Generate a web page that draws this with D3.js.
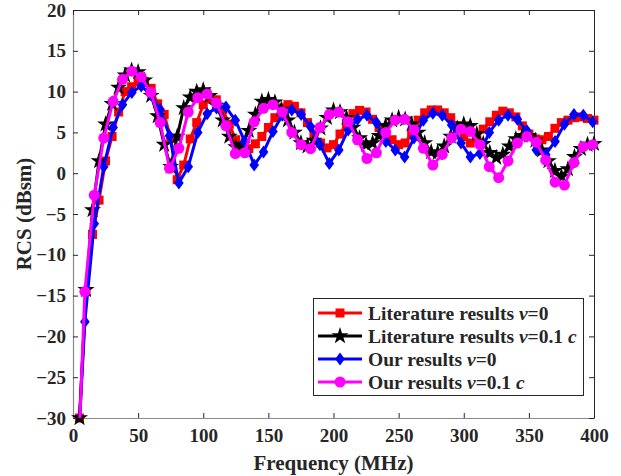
<!DOCTYPE html>
<html>
<head>
<meta charset="utf-8">
<script src="https://cdn.jsdelivr.net/npm/d3@7"></script>
<style>
  body { margin: 0; background: #fff; }
  svg text { font-family: "Liberation Serif", "Times New Roman", serif; font-weight: bold; fill: #262626; }
</style>
</head>
<body>
<svg id="chart" width="621" height="476"></svg>
<script>
// Frequency samples (MHz) of the literature curves
const freqLit = [5,10,15,20,25,30,35,40,45,50,55,60,65,70,75,80,85,90,95,100,
  105,110,115,120,125,130,135,140,145,150,155,160,165,170,175,180,185,190,195,200,
  205,210,215,220,225,230,235,240,245,250,255,260,265,270,275,280,285,290,295,300,
  305,310,315,320,325,330,335,340,345,350,355,360,365,370,375,380,385,390,395,400];

// Frequency samples (MHz) of our computed curves
const freqOurs = [1.9,9.1,16.3,23.6,30.8,38.0,45.2,52.4,59.7,66.9,74.1,81.3,88.5,95.8,103.0,110.2,
  117.4,124.6,131.9,139.1,146.3,153.5,160.7,168.0,175.2,182.4,189.6,196.8,204.1,211.3,218.5,225.7,
  232.9,240.2,247.4,254.6,261.8,269.0,276.3,283.5,290.7,297.9,305.1,312.4,319.6,326.8,334.0,341.2,
  348.5,355.7,362.9,370.1,377.3,384.6,391.8,399.0];

// RCS (dBsm), literature, v = 0
const litV0 = [-30,-14.5,-7.5,-3.3,1.5,4.5,7.5,10,10.6,11.2,
  11.2,10.4,8.5,7.2,4.3,-0.8,1.0,4.2,6.2,8.4,
  9.1,9.0,7.8,6.0,4.1,3.1,3.0,3.6,4.5,5.6,
  6.8,8.0,8.4,8.2,7.4,6.2,4.8,3.7,3.1,3.5,
  4.8,6.1,7.3,7.7,7.5,6.6,5.6,4.8,4.1,3.5,
  3.7,4.9,6.5,7.4,7.75,7.75,7.4,6.8,5.8,4.5,
  3.7,4.3,5.4,6.3,7.1,7.6,7.4,6.9,5.8,4.8,
  4.2,4.1,4.5,5.5,6.2,6.5,6.8,6.9,6.7,6.5];

// RCS (dBsm), literature, v = 0.1c
const litV01 = [-30,-14.3,-4.5,1.5,6,8.5,10.5,12,12.6,12.4,
  11.4,9.5,7,3.5,0.8,4.5,8,9.3,10,10.2,
  9.5,8.3,6.5,4.5,3.2,3.5,5.2,7.2,8.8,9.0,
  8.7,7.8,6.5,5.0,3.7,3.3,4.0,5.5,6.8,7.7,
  7.5,6.8,5.6,4.3,3.5,3.7,4.6,5.8,6.5,6.8,
  6.6,6.0,5.0,3.7,2.6,2.5,3.3,4.5,5.5,6.0,
  5.8,4.8,3.6,2.5,1.9,2.3,3.3,4.2,4.6,4.6,
  4.0,2.8,1.5,0.3,-0.4,0.5,2.0,3.0,3.5,3.6];

// RCS (dBsm), ours, v = 0
const oursV0 = [-40,-18.2,-6.2,0.8,5.6,8.4,9.9,10.7,9.6,7.8,4.6,-1.2,0.8,5.0,7.3,8.0,
  8.1,6.5,3.9,1.0,2.6,5.1,7.1,7.75,7.2,5.7,3.5,1.2,2.85,5.3,6.6,7.1,
  6.2,3.9,2.85,2.0,4.3,6.5,7.35,7.1,5.9,3.7,2.0,2.4,5.0,6.5,7.1,6.6,
  5.2,2.85,2.3,3.9,6.0,7.2,7.1,6.3];

// RCS (dBsm), ours, v = 0.1c
const oursV01 = [-44,-14.5,-2.7,4.3,8.8,11.5,12.5,11.8,9.9,6.2,0.6,3.05,7.5,9.25,9.7,8.6,
  5.8,2.4,2.5,6.3,7.95,8.4,7.5,5.0,3.5,3.0,5.6,7.2,7.5,6.3,4.1,1.8,
  2.5,5.0,6.5,6.6,5.3,3.05,1.0,2.3,4.35,5.4,5.1,3.5,0.8,-0.55,1.5,3.7,
  4.5,3.8,1.6,-1.1,-1.45,1.3,3.25,3.5];

const xTicks = [0,50,100,150,200,250,300,350,400];
const yTicks = [-30,-25,-20,-15,-10,-5,0,5,10,15,20];

const series = [
  { name: "Literature results ", tail: "=0", unit: "", freq: freqLit, vals: litV0, color: "#ff0000", marker: "square" },
  { name: "Literature results ", tail: "=0.1 ", unit: "c", freq: freqLit, vals: litV01, color: "#000000", marker: "star" },
  { name: "Our results ", tail: "=0", unit: "", freq: freqOurs, vals: oursV0, color: "#0000ff", marker: "diamond" },
  { name: "Our results ", tail: "=0.1 ", unit: "c", freq: freqOurs, vals: oursV01, color: "#ff00ff", marker: "circle" }
];

const svg = d3.select("#chart");
const plot = { left: 73, right: 594, top: 10, bottom: 418 };

const x = d3.scaleLinear().domain([0, 400]).range([plot.left, plot.right]);
const y = d3.scaleLinear().domain([-30, 20]).range([plot.bottom, plot.top]);

svg.append("rect").attr("x", 0).attr("y", 0).attr("width", 621).attr("height", 476).attr("fill", "#fff");

svg.append("defs").append("clipPath").attr("id", "plotClip")
  .append("rect")
  .attr("x", plot.left).attr("y", plot.top)
  .attr("width", plot.right - plot.left).attr("height", plot.bottom - plot.top);

// Axes with inward ticks
const tickLen = 5;
const gx = svg.append("g").attr("transform", `translate(0,${plot.bottom})`)
  .call(d3.axisBottom(x).tickValues(xTicks).tickSizeInner(-tickLen).tickSizeOuter(0).tickPadding(10));
const gy = svg.append("g").attr("transform", `translate(${plot.left},0)`)
  .call(d3.axisLeft(y).tickValues(yTicks).tickSizeInner(-tickLen).tickSizeOuter(0).tickPadding(7));
const gxTop = svg.append("g").attr("transform", `translate(0,${plot.top})`)
  .call(d3.axisTop(x).tickValues(xTicks).tickSizeInner(-tickLen).tickSizeOuter(0).tickFormat(""));
const gyRight = svg.append("g").attr("transform", `translate(${plot.right},0)`)
  .call(d3.axisRight(y).tickValues(yTicks).tickSizeInner(-tickLen).tickSizeOuter(0).tickFormat(""));

[gx, gy].forEach(g => {
  g.select(".domain").attr("stroke", "#8a8a8a").attr("stroke-width", 1.2);
  g.selectAll(".tick line").attr("stroke", "#262626");
  g.selectAll(".tick text").style("font-size", "19px").attr("fill", "#262626");
});
[gxTop, gyRight].forEach(g => {
  g.select(".domain").attr("stroke", "#262626").attr("stroke-width", 1);
  g.selectAll(".tick line").attr("stroke", "#262626");
});
gx.selectAll(".tick text").attr("dy", "0.72em");

// Axis titles
svg.append("text").attr("x", (plot.left + plot.right) / 2).attr("y", 470)
  .attr("text-anchor", "middle").style("font-size", "21px").text("Frequency (MHz)");
svg.append("text").attr("transform", `translate(31,${(plot.top + plot.bottom) / 2}) rotate(-90)`)
  .attr("text-anchor", "middle").style("font-size", "21px").text("RCS (dBsm)");

// Marker shapes
function drawMarker(sel, type, color) {
  if (type === "square") {
    sel.append("rect").attr("x", -4.5).attr("y", -4.5).attr("width", 9).attr("height", 9).attr("fill", color);
  } else if (type === "star") {
    sel.append("path").attr("d", d3.symbol(d3.symbolStar, 90)()).attr("fill", color);
  } else if (type === "diamond") {
    sel.append("path").attr("d", "M0,-6.5L4.8,0L0,6.5L-4.8,0Z").attr("fill", color);
  } else {
    sel.append("circle").attr("r", 5.5).attr("fill", color);
  }
}

const line = d3.line().x(d => x(d[0])).y(d => y(d[1]));

series.forEach(s => {
  const pts = s.freq.map((f, i) => [f, s.vals[i]]);
  svg.append("path").datum(pts)
    .attr("clip-path", "url(#plotClip)")
    .attr("d", line)
    .attr("fill", "none").attr("stroke", s.color).attr("stroke-width", 3)
    .attr("stroke-linejoin", "round");
  const shown = pts.filter(p => p[1] >= -30 && p[1] <= 20);
  svg.append("g").selectAll("g").data(shown).join("g")
    .attr("transform", d => `translate(${x(d[0])},${y(d[1])})`)
    .each(function () { drawMarker(d3.select(this), s.marker, s.color); });
});

// Legend
const lg = svg.append("g");
lg.append("rect").attr("x", 313.5).attr("y", 298.5).attr("width", 270).attr("height", 97)
  .attr("fill", "#fff").attr("stroke", "#262626").attr("stroke-width", 1);
series.forEach((s, i) => {
  const cy = 313 + i * 23;
  lg.append("line").attr("x1", 318).attr("x2", 362).attr("y1", cy).attr("y2", cy)
    .attr("stroke", s.color).attr("stroke-width", 3);
  drawMarker(lg.append("g").attr("transform", `translate(340,${cy})`), s.marker, s.color);
  const t = lg.append("text").attr("x", 368).attr("y", cy).attr("dy", "0.35em")
    .style("font-size", "19.5px").attr("fill", "#000");
  t.append("tspan").text(s.name);
  t.append("tspan").attr("font-style", "italic").text("v");
  t.append("tspan").text(s.tail);
  if (s.unit) t.append("tspan").attr("font-style", "italic").text(s.unit);
});
</script>
</body>
</html>
